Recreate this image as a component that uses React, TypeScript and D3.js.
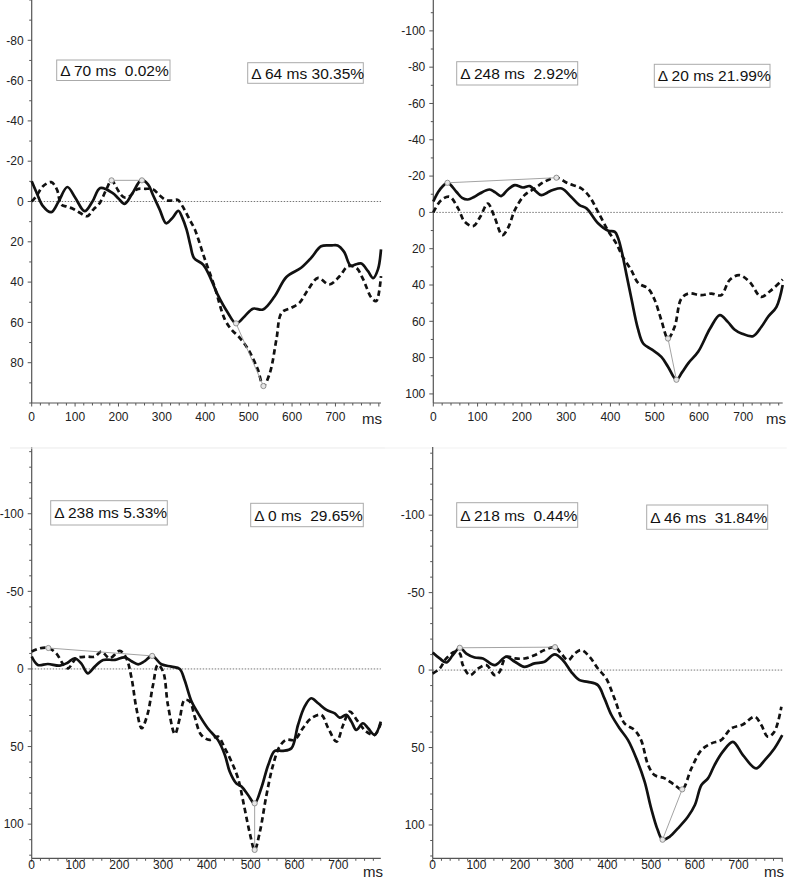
import React from 'react';
import * as d3 from 'd3';

type Pt = [number, number];

// ---- Panel 1 (top-left) ----
const p1Solid: Pt[] = [[0,-10],[12,-4],[25,2],[45,5.3],[62,0],[82,-7.2],[100,-2],[122,4.8],[140,0],[158,-6.7],[186,-4.3],[200,-1.5],[214,1.2],[232,-4],[253,-10.7],[268,-8.5],[280,-3],[295,4],[310,10.8],[325,8],[338,4.6],[347,8],[357,14],[366,22],[374,28],[395,31.3],[410,37],[428,46],[452,55.2],[471,60.5],[491,56.9],[510,53.2],[533,53.6],[560,47],[587,37.5],[621,32.9],[644,28],[667,22.2],[690,21.8],[705,21.8],[720,25],[735,31.8],[750,31],[760,30.8],[775,34.6],[787,38],[798,33.7],[805,23.8]];
const p1Dashed: Pt[] = [[0,0],[12,-3],[26,-7.6],[45,-9.6],[58,-6],[68,1.5],[80,2.5],[95,3.6],[111,5.6],[128,7.3],[142,4],[157,0.7],[172,-6],[184,-10.5],[195,-7],[205,-3.5],[214,-2],[225,-2.5],[242,-6],[262,-6.3],[280,-6],[295,-3],[310,-0.6],[324,-0.5],[337,-0.8],[345,1.5],[352,4],[364,9],[376,13.9],[398,28],[421,42],[445,58.5],[462,64],[476,66.8],[499,73.4],[521,83.3],[534,91.6],[549,85],[564,68.4],[576,55.2],[598,52.8],[617,50.3],[637,43.7],[660,37.9],[686,41.2],[710,37],[729,32.1],[748,32.9],[764,38.7],[783,47.8],[794,49.4],[805,37]];
const p1Peaks: Pt[] = [[184,-10.5],[254,-10.5]];
const p1Troughs: Pt[] = [[471,60.5],[534,91.6]];
const p1Notes = ['Δ 70 ms  0.02%', 'Δ 64 ms 30.35%'];
const p1YLabels = [-80, -60, -40, -20, 0, 20, 40, 60, 80];

// ---- Panel 2 (top-right) ----
const p2Solid: Pt[] = [[0,-6],[14,-12.3],[32,-16.3],[52,-11.4],[65,-8],[78,-7.1],[92,-8.5],[105,-10.4],[127,-12.6],[140,-11],[153,-9],[168,-12.5],[184,-15],[202,-13.7],[218,-14.5],[230,-12],[244,-9.5],[258,-11],[270,-12.3],[290,-13.2],[311,-8.6],[330,-4],[346,-2.2],[372,6],[395,10.1],[410,10.7],[417,14],[425,21],[436,34],[448,48.3],[462,64],[474,72.2],[493,75.5],[515,79.6],[530,85],[549,92.2],[562,88],[576,83],[598,76.8],[625,64],[647,56.6],[665,60.3],[680,64.5],[696,66.7],[722,68.2],[741,63],[756,57.5],[775,52],[789,40]];
const p2Dashed: Pt[] = [[0,0],[18,-6.8],[37,-8.6],[56,-2.2],[71,5.2],[90,7.6],[106,2.4],[123,-4.9],[138,2.4],[156,12.5],[170,7.9],[184,-1.2],[206,-9.5],[229,-13.2],[251,-16.9],[278,-19.1],[304,-16],[334,-13.2],[353,-8.6],[372,-0.3],[394,9.8],[413,17.1],[428,24.5],[447,31.8],[463,39],[485,41.9],[500,48.3],[515,59.4],[530,69.5],[545,63],[560,47.5],[576,44.7],[605,45.6],[628,44.7],[650,45.6],[669,37.3],[691,34.6],[714,38.2],[740,46.5],[759,43.7],[789,37]];
const p2Peaks: Pt[] = [[32,-16.3],[278,-19.1]];
const p2Troughs: Pt[] = [[530,69.5],[549,92.2]];
const p2Notes = ['Δ 248 ms  2.92%', 'Δ 20 ms 21.99%'];
const p2YLabels = [-100, -80, -60, -40, -20, 0, 20, 40, 60, 80, 100];

// ---- Panel 3 (bottom-left) ----
const p3Solid: Pt[] = [[0,-8],[14,-2.6],[37,-3.2],[64,-2.1],[82,-4],[98,-6.9],[113,-3.6],[128,2.8],[144,-1.5],[163,-5.8],[190,-5.8],[212,-7.5],[228,-5],[243,-3],[258,-5],[275,-8.4],[296,-3],[319,-1.5],[338,0],[349,7.1],[365,21],[380,28.6],[402,38.2],[425,45.7],[441,55.4],[452,66.1],[467,73.7],[479,75.8],[494,81.2],[509,86.6],[524,76.9],[540,61.9],[555,52.8],[574,52.8],[593,51.1],[608,36.1],[623,24.3],[638,18.9],[654,22.1],[673,26.4],[692,28.6],[703,31.4],[718,29.6],[730,34],[741,39.3],[756,35],[768,38.2],[783,42.5],[797,34]];
const p3Dashed: Pt[] = [[0,-11.2],[18,-13.3],[38,-13.5],[56,-10.1],[72,-3],[83,-0.4],[102,-6.9],[125,-7.9],[144,-7.9],[159,-11.2],[178,-6.9],[201,-11.6],[216,-6.9],[228,6],[239,25.3],[251,38.2],[264,29.6],[277,10.3],[288,-2.6],[300,1.7],[311,23.2],[327,42],[338,31.8],[349,20],[361,21],[372,30.7],[387,42.5],[406,45.7],[425,43.6],[441,51.1],[456,59.7],[471,70.4],[486,89.8],[498,105.9],[509,116.6],[521,104.8],[536,81.2],[551,61.9],[566,50],[581,45.7],[600,45.7],[619,38.2],[638,31.8],[661,29.6],[677,38.2],[696,46.8],[711,36.1],[726,27.5],[745,34],[764,40.4],[783,42.5],[797,35]];
const p3Peaks: Pt[] = [[38,-13.5],[275,-8.4]];
const p3Troughs: Pt[] = [[509,86.6],[509,116.6]];
const p3Notes = ['Δ 238 ms 5.33%', 'Δ 0 ms  29.65%'];
const p3YLabels = [-100, -50, 0, 50, 100];

// ---- Panel 4 (bottom-right) ----
const p4Solid: Pt[] = [[0,-11.4],[16,-7.5],[31,-4.9],[46,-9.6],[62,-14.4],[77,-10.7],[96,-8.1],[115,-7.5],[142,-3.2],[168,-8.6],[188,-5.4],[210,-2.1],[233,-4.3],[256,-5.4],[279,-10.1],[298,-6.4],[317,1.1],[336,6.5],[355,7.6],[378,9.7],[393,18.3],[409,29],[428,37.7],[447,45.2],[466,57],[485,72],[500,89.3],[515,103.3],[526,109.5],[542,107.6],[561,102.2],[584,94.7],[600,87.1],[615,74.2],[630,69.9],[645,61.3],[664,52.7],[687,46.3],[710,54.9],[740,63.5],[760,58.1],[782,50.6],[800,42]];
const p4Dashed: Pt[] = [[0,2.2],[16,-1],[31,-7.5],[50,-11.8],[62,-10.7],[69,-3.2],[85,3.3],[104,-1],[123,-3.2],[142,3.3],[153,1.1],[168,-8.6],[188,-7.5],[210,-7.5],[233,-9.6],[256,-12.9],[280,-14.8],[294,-10.7],[310,-6.4],[325,-10.7],[340,-12.9],[359,-8.6],[378,-1],[397,5.4],[416,18.3],[439,34.4],[462,38.7],[477,45.2],[493,61.3],[508,67.8],[531,69.9],[554,74.2],[571,77],[592,63.5],[615,51.6],[638,47.3],[660,45.2],[683,37.7],[710,35.1],[737,30.1],[752,35.5],[767,43],[782,39.8],[798,23.7]];
const p4Peaks: Pt[] = [[62,-14.4],[280,-14.8]];
const p4Troughs: Pt[] = [[526,109.5],[571,77]];
const p4Notes = ['Δ 218 ms  0.44%', 'Δ 46 ms  31.84%'];
const p4YLabels = [-100, -50, 0, 50, 100];

const xLabels = [0, 100, 200, 300, 400, 500, 600, 700];
const xUnit = 'ms';

type Layout = {
  x0: number; x1: number; y0: number; y1: number;
  xDomain: [number, number]; yDomain: [number, number];
  yMinorStep: number; labelBase: number; msX: number; msBase: number;
  boxes: { x: number; y: number; w: number; h: number }[];
  topLine?: boolean;
};

const panels = [
  {
    solid: p1Solid, dashed: p1Dashed, peaks: p1Peaks, troughs: p1Troughs, notes: p1Notes, yLabels: p1YLabels,
    layout: { x0: 31.7, x1: 381, y0: 0, y1: 403, xDomain: [0, 805], yDomain: [-100, 100], yMinorStep: 10, labelBase: 421, msX: 362, msBase: 424,
      boxes: [{ x: 56.7, y: 60, w: 113.3, h: 20.5 }, { x: 247.7, y: 62.7, w: 115.6, h: 20.6 }] } as Layout,
  },
  {
    solid: p2Solid, dashed: p2Dashed, peaks: p2Peaks, troughs: p2Troughs, notes: p2Notes, yLabels: p2YLabels,
    layout: { x0: 433.3, x1: 782.7, y0: 0, y1: 403, xDomain: [0, 789], yDomain: [-117, 105], yMinorStep: 10, labelBase: 421, msX: 766, msBase: 424,
      boxes: [{ x: 456.7, y: 61.7, w: 121, h: 23.3 }, { x: 654.3, y: 64.3, w: 115.7, h: 23 }] } as Layout,
  },
  {
    solid: p3Solid, dashed: p3Dashed, peaks: p3Peaks, troughs: p3Troughs, notes: p3Notes, yLabels: p3YLabels,
    layout: { x0: 31.7, x1: 380.8, y0: 447, y1: 858.3, xDomain: [0, 797], yDomain: [-143, 122], yMinorStep: 10, labelBase: 868.5, msX: 363, msBase: 877,
      boxes: [{ x: 50.7, y: 500.7, w: 116.6, h: 24.3 }, { x: 250.7, y: 503.3, w: 112.6, h: 23.4 }], topLine: true } as Layout,
  },
  {
    solid: p4Solid, dashed: p4Dashed, peaks: p4Peaks, troughs: p4Troughs, notes: p4Notes, yLabels: p4YLabels,
    layout: { x0: 432.7, x1: 782.7, y0: 447, y1: 858.3, xDomain: [0, 801], yDomain: [-144, 121.5], yMinorStep: 10, labelBase: 868.5, msX: 764, msBase: 877,
      boxes: [{ x: 456.7, y: 502.7, w: 121, h: 24.6 }, { x: 646.7, y: 505, w: 121, h: 24.3 }], topLine: true } as Layout,
  },
];

const FONT = "'Liberation Sans', Arial, Helvetica, sans-serif";

function Panel({ p }: { p: typeof panels[number] }) {
  const L = p.layout;
  const x = d3.scaleLinear().domain(L.xDomain).range([L.x0, L.x1]);
  const y = d3.scaleLinear().domain(L.yDomain).range([L.y0, L.y1]);
  const line = d3.line<Pt>().x(d => x(d[0])).y(d => y(d[1])).curve(d3.curveCatmullRom.alpha(0.5));
  const yMinor = d3.range(Math.ceil(L.yDomain[0] / L.yMinorStep) * L.yMinorStep, L.yDomain[1] + 0.001, L.yMinorStep);
  const xMinor = d3.range(0, L.xDomain[1] + 0.001, 20);
  const axisColor = '#555';
  return (
    <g>
      {L.topLine && <line x1={10} x2={L.x1 + 4} y1={L.y0 + 1} y2={L.y0 + 1} stroke="#f1f1f1" strokeWidth={1} />}
      <line x1={L.x0} x2={L.x1} y1={y(0)} y2={y(0)} stroke="#777" strokeWidth={1} strokeDasharray="1.5 1.5" />
      <line x1={L.x0} x2={L.x0} y1={L.y0} y2={L.y1} stroke={axisColor} strokeWidth={1.2} />
      {yMinor.map(v => (
        <line key={'ym' + v} x1={L.x0 - (p.yLabels.includes(v) ? 4 : 2.5)} x2={L.x0} y1={y(v)} y2={y(v)} stroke={axisColor} strokeWidth={1} />
      ))}
      {p.yLabels.map(v => (
        <text key={'yl' + v} x={L.x0 - 8} y={y(v) + 4.2} textAnchor="end" fontSize={12} fill="#222" fontFamily={FONT}>{String(v)}</text>
      ))}
      <line x1={L.x0} x2={L.x1} y1={L.y1} y2={L.y1} stroke={axisColor} strokeWidth={1.2} />
      {xMinor.map(v => (
        <line key={'xm' + v} x1={x(v)} x2={x(v)} y1={L.y1} y2={L.y1 + (v % 100 === 0 ? 3.5 : 2.5)} stroke={axisColor} strokeWidth={1} />
      ))}
      {xLabels.map(v => (
        <text key={'xl' + v} x={x(v)} y={L.labelBase} textAnchor="middle" fontSize={12} fill="#222" fontFamily={FONT}>{String(v)}</text>
      ))}
      <text x={L.msX} y={L.msBase} fontSize={15} fill="#222" fontFamily={FONT}>{xUnit}</text>
      <path d={line(p.dashed) || ''} fill="none" stroke="#111" strokeWidth={2.7} strokeDasharray="5.5 3.5" />
      <path d={line(p.solid) || ''} fill="none" stroke="#111" strokeWidth={2.7} />
      {[p.peaks, p.troughs].map((pair, i) => (
        <g key={'c' + i}>
          <line x1={x(pair[0][0])} y1={y(pair[0][1])} x2={x(pair[1][0])} y2={y(pair[1][1])} stroke="#999" strokeWidth={0.9} />
          {pair.map((d, j) => (
            <circle key={j} cx={x(d[0])} cy={y(d[1])} r={2.6} fill="#e6e6e6" stroke="#888" strokeWidth={0.9} />
          ))}
        </g>
      ))}
      {L.boxes.map((b, i) => (
        <g key={'b' + i}>
          <rect x={b.x} y={b.y} width={b.w} height={b.h} fill="#fff" stroke="#aaa" strokeWidth={1} />
          <text x={b.x + 3.5} y={b.y + b.h / 2 + 5.5} fontSize={15.5} fill="#111" fontFamily={FONT} style={{ whiteSpace: 'pre' }}>{p.notes[i]}</text>
        </g>
      ))}
    </g>
  );
}

export default function App() {
  return (
    <svg width={787} height={879} style={{ position: 'absolute', left: 0, top: 0, background: '#fff' }}>
      <rect x={0} y={0} width={787} height={879} fill="#fff" />
      {panels.map((p, i) => <Panel key={i} p={p} />)}
    </svg>
  );
}
